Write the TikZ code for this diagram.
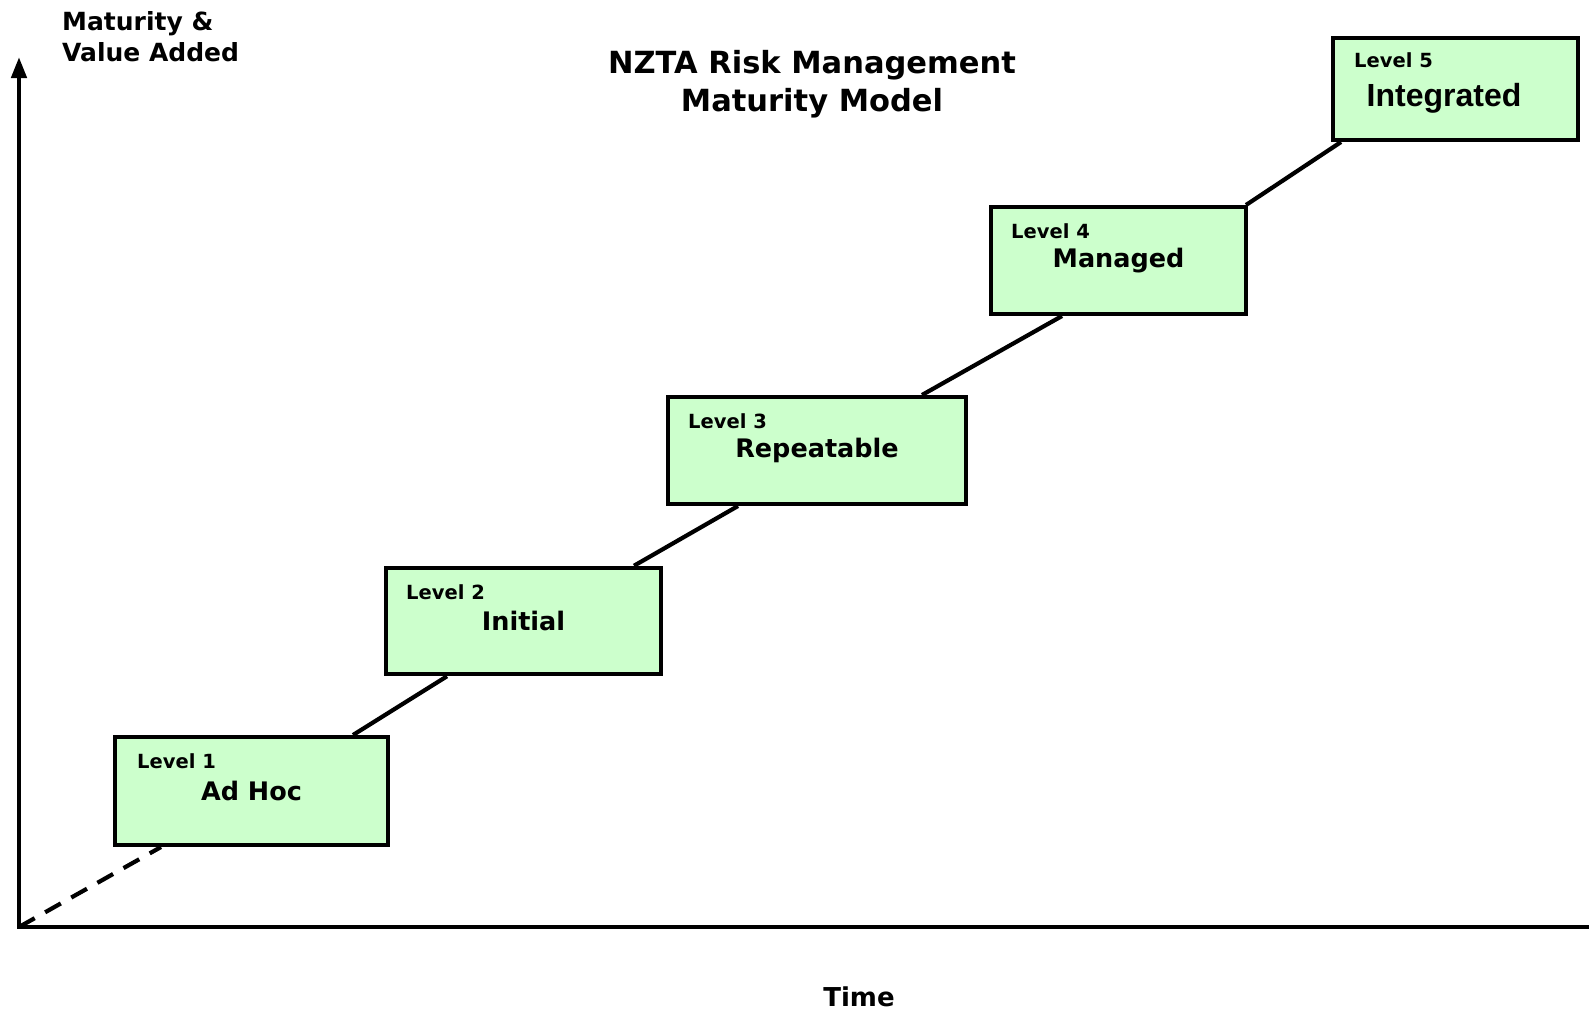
\documentclass[tikz,border=0pt]{standalone}
\usepackage{fontspec}
\setmainfont{DejaVu Sans}
\newfontfamily\arialfont{Liberation Sans}
\usetikzlibrary{arrows.meta}
\definecolor{boxgreen}{RGB}{204,255,204}
\begin{document}
\begin{tikzpicture}[x=1pt,y=-1pt,
  levelbox/.style={draw=black, line width=4pt, fill=boxgreen, inner sep=0pt,
    font=\bfseries\fontsize{25.5}{30}\selectfont},
  levellabel/.style={anchor=west, inner sep=0pt, font=\bfseries\fontsize{19.5}{22}\selectfont},
  conn/.style={line width=4.2pt},
  dashconn/.style={line width=4.2pt, dash pattern=on 18pt off 12pt},
  axis/.style={line width=4.5pt},
  axislabel/.style={inner sep=0pt, font=\bfseries\fontsize{25}{31}\selectfont}]
\useasboundingbox[fill=white] (0,0) rectangle (1589,1012);

% axes
\coordinate (o) at (19,927);
\coordinate (ytop) at (19,57);
\coordinate (xend) at (1589,927);
\draw[axis,{Triangle[width=15pt,length=21pt]}-] (ytop) -- (o) -- (xend);

% labels
\node[axislabel, anchor=west, align=left] (ylab) at (62,37) {Maturity \&\\Value Added};
\node[axislabel, font=\bfseries\fontsize{26}{31}\selectfont] (xlab) at (859,997) {Time};
\node[inner sep=0pt, align=center, font=\bfseries\fontsize{30.5}{37.5}\selectfont] (title) at (812,84) {NZTA Risk Management\\Maturity Model};

% boxes
\node[levelbox, minimum width=273pt, minimum height=108pt] (b1) at (251.5,791) {Ad Hoc};
\node[levelbox, minimum width=275pt, minimum height=106.5pt] (b2) at (523.5,621) {Initial};
\node[levelbox, minimum width=298pt, minimum height=107pt] (b3) at (817,450.5) {Repeatable};
\node[levelbox, minimum width=255pt, minimum height=107pt] (b4) at (1118.5,260.5) {Managed};
\node[levelbox, minimum width=245pt, minimum height=102pt] (b5) at (1455.5,89) {};
\node[inner sep=0pt, font=\arialfont\bfseries\fontsize{32}{36}\selectfont] (b5t) at (1444,98) {Integrated};

% level labels
\node[levellabel] (l1) at ([xshift=24pt,yshift=-26pt]b1.north west) {Level 1};
\node[levellabel] (l2) at ([xshift=22pt,yshift=-26pt]b2.north west) {Level 2};
\node[levellabel] (l3) at ([xshift=22pt,yshift=-26pt]b3.north west) {Level 3};
\node[levellabel] (l4) at ([xshift=22pt,yshift=-26pt]b4.north west) {Level 4};
\node[levellabel] (l5) at ([xshift=23pt,yshift=-24pt]b5.north west) {Level 5};

% connectors
\draw[dashconn] (o) -- ([xshift=48pt]b1.south west);
\draw[conn] ([xshift=240pt]b1.north west) -- ([xshift=63pt]b2.south west);
\draw[conn] ([xshift=250pt]b2.north west) -- ([xshift=72pt]b3.south west);
\draw[conn] ([xshift=256pt]b3.north west) -- ([xshift=73pt]b4.south west);
\draw[conn] ([xshift=-2pt]b4.north east) -- ([xshift=10pt]b5.south west);
\end{tikzpicture}
\end{document}
